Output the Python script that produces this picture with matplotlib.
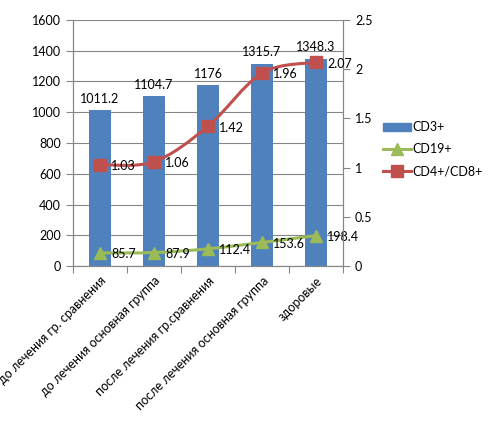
import matplotlib.pyplot as plt
import numpy as np
from matplotlib.path import Path
from matplotlib.patches import PathPatch, Patch
from matplotlib.lines import Line2D

plt.rcParams['font.family'] = ['Lato', 'DejaVu Sans']
plt.rcParams['font.size'] = 9

categories = ["до лечения гр. сравнения", "до лечения основная группа",
              "после лечения гр.сравнения", "после лечения основная группа",
              "здоровые"]
cd3 = [1011.2, 1104.7, 1176, 1315.7, 1348.3]
cd19 = [85.7, 87.9, 112.4, 153.6, 198.4]
cd4_cd8 = [1.03, 1.06, 1.42, 1.96, 2.07]

blue = "#4F81BD"
green = "#9BBB59"
red = "#C0504D"
gray = "#868686"


def smooth_path(xs, ys):
    # catmull-rom style bezier through the points, like Excel's smoothed line
    pts = np.column_stack([xs, ys]).astype(float)
    ext = np.vstack([pts[0], pts, pts[-1]])
    verts = [pts[0]]
    codes = [Path.MOVETO]
    for i in range(len(pts) - 1):
        p0, p1, p2, p3 = ext[i], ext[i + 1], ext[i + 2], ext[i + 3]
        verts += [p1 + (p2 - p0) / 6, p2 - (p3 - p1) / 6, p2]
        codes += [Path.CURVE4] * 3
    return Path(verts, codes)


fig = plt.figure(figsize=(4.93, 4.42), dpi=100)
ax = fig.add_axes([0.148, 0.398, 0.548, 0.557])
ax2 = ax.twinx()

x = np.arange(len(categories))
bars = ax.bar(x, cd3, width=0.4, color=blue, zorder=2)
ax.bar_label(bars, labels=[f"{v:g}" for v in cd3], padding=4, fontsize=9)

ax.add_patch(PathPatch(smooth_path(x, cd19), fill=False, edgecolor=green, lw=2.2, zorder=3))
ax.plot(x, cd19, linestyle='none', marker='^', ms=8, color=green, zorder=4)
for xi, v in zip(x, cd19):
    ax.annotate(f"{v:g}", (xi, v), xytext=(8, -1), textcoords='offset points',
                ha='left', va='center', fontsize=9)

ax2.add_patch(PathPatch(smooth_path(x, cd4_cd8), fill=False, edgecolor=red, lw=2.2, zorder=3))
ax2.plot(x, cd4_cd8, linestyle='none', marker='s', ms=8, color=red, zorder=4)
for xi, v in zip(x, cd4_cd8):
    ax2.annotate(f"{v:g}", (xi, v), xytext=(8, -1), textcoords='offset points',
                 ha='left', va='center', fontsize=9)

ax.set_xlim(-0.5, len(categories) - 0.5)
ax.set_ylim(0, 1600)
ax.set_yticks(np.arange(0, 1601, 200))
ax2.set_ylim(0, 2.5)
ax2.set_yticks([0, 0.5, 1, 1.5, 2, 2.5])
ax2.set_yticklabels(["0", "0.5", "1", "1.5", "2", "2.5"])

ax.set_axisbelow(True)
ax.grid(axis='y', color=gray, lw=0.8)
ax.set_xticks(np.arange(len(categories) + 1) - 0.5)
ax.set_xticklabels([])
ax.set_xticks(x, minor=True)
ax.set_xticklabels(categories, minor=True, rotation=45, ha='right',
                   rotation_mode='anchor', fontsize=9)
ax.tick_params(axis='x', which='minor', length=0, pad=6)
ax.tick_params(axis='x', which='major', length=5, color=gray)
ax.tick_params(axis='y', length=5, color=gray)
ax2.tick_params(axis='y', length=5, color=gray)

for a in (ax, ax2):
    a.spines['top'].set_visible(False)
    for s in ('left', 'right', 'bottom'):
        a.spines[s].set_color(gray)

handles = [Patch(color=blue),
           Line2D([], [], color=green, lw=2.2, marker='^', ms=8),
           Line2D([], [], color=red, lw=2.2, marker='s', ms=8)]
fig.legend(handles, ["CD3+", "CD19+", "CD4+/CD8+"], loc='upper left',
           bbox_to_anchor=(0.755, 0.751), frameon=False, handlelength=2.2,
           handletextpad=0.1, labelspacing=0.8, fontsize=9)

fig.savefig("out.png", dpi=100)
